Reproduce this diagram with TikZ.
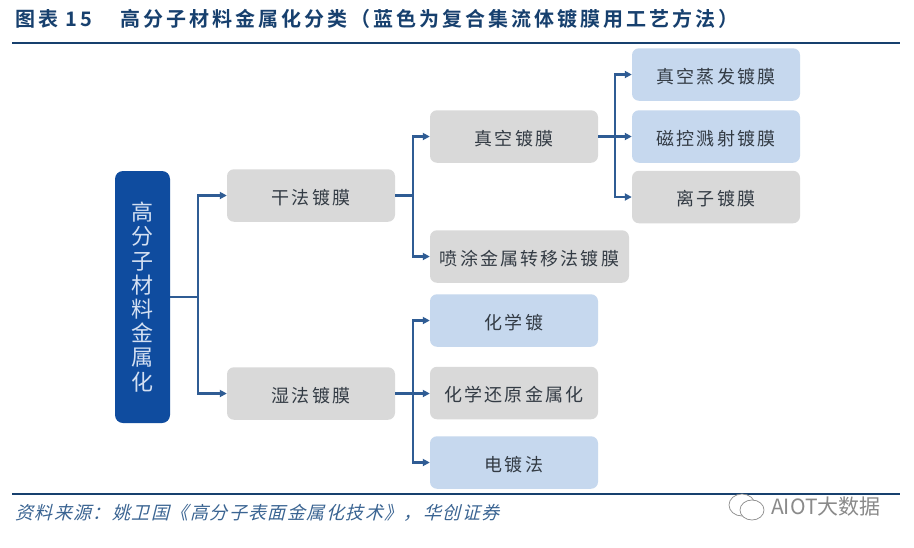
\documentclass[tikz,border=0pt]{standalone}
\usepackage{fontspec}
\usetikzlibrary{arrows.meta}
\setmainfont{Liberation Sans}
\newfontfamily\cjkbox[LetterSpace=12]{Noto Sans CJK SC}
\newfontfamily\cjkroot{Noto Sans CJK SC}
\newfontfamily\cjktitle[LetterSpace=15]{Noto Sans CJK SC Bold}
\newfontfamily\cjkfoot[FakeSlant=0.25,LetterSpace=8]{Noto Sans CJK SC}
\newfontfamily\cjkmark{Noto Sans CJK SC}
\definecolor{ruleblue}{HTML}{17406E}
\definecolor{linkblue}{HTML}{2F5C94}
\definecolor{boxgray}{HTML}{D9D9D9}
\definecolor{boxblue}{HTML}{C6D8EE}
\definecolor{rootblue}{HTML}{0F4C9F}
\definecolor{roottext}{HTML}{D4E0F2}
\definecolor{boxtext}{HTML}{333B44}
\definecolor{foottext}{HTML}{3A6492}
\definecolor{marktext}{HTML}{8A8A8A}
\tikzset{
  x=1pt,y=-1pt,
  basebox/.style={rounded corners=7pt,inner sep=0pt,text=boxtext,font=\cjkbox\fontsize{18}{20}\selectfont,minimum height=52.5pt,text height=18pt,text depth=0.3pt},
  graybox/.style={basebox,fill=boxgray,minimum width=168pt},
  bluebox/.style={basebox,fill=boxblue,minimum width=168pt},
  widebox/.style={basebox,fill=boxgray,minimum width=199pt},
  rootbox/.style={rounded corners=8pt,fill=rootblue,text=roottext,inner sep=0pt,minimum width=55pt,minimum height=252pt,align=center,font=\cjkroot\fontsize{22}{24.2}\selectfont},
  conn/.style={draw=linkblue,line width=2.2pt,-{Triangle[length=7pt,width=7pt]}},
  stem/.style={draw=linkblue,line width=2.2pt},
  rulebar/.style={draw=ruleblue,line width=2pt},
  titletext/.style={anchor=west,inner sep=0pt,text=ruleblue,font=\cjktitle\fontsize{20}{22}\selectfont},
  foot/.style={anchor=west,inner sep=0pt,text=foottext,font=\cjkfoot\fontsize{18}{20}\selectfont},
  marklabel/.style={anchor=west,inner sep=0pt,text=marktext,font=\cjkmark\fontsize{21}{23}\selectfont},
  markicon/.style={draw=marktext,fill=white,line width=0.7pt},
}
\begin{document}
\begin{tikzpicture}
\useasboundingbox (0,0) rectangle (914,547);
\fill[white] (0,0) rectangle (914,547);

\coordinate (ruleTopL) at (12,43);
\coordinate (ruleTopR) at (900,43);
\coordinate (ruleBotL) at (12,494);
\coordinate (ruleBotR) at (900,494);
\draw[rulebar] (ruleTopL) -- (ruleTopR);
\draw[rulebar] (ruleBotL) -- (ruleBotR);

\node[titletext] (fig) at (15,19) {图表 15};
\node[titletext] (title) at (120,19) {高分子材料金属化分类（蓝色为复合集流体镀膜用工艺方法）};
\node[foot] (source) at (15,513) {资料来源：姚卫国《高分子表面金属化技术》，华创证券};

\node[rootbox] (root) at (142.5,297) {高\\分\\子\\材\\料\\金\\属\\化};
\node[graybox] (gan) at (311,195.5) {干法镀膜};
\node[graybox] (shi) at (311,393.5) {湿法镀膜};
\node[graybox] (vac) at (514,136.5) {真空镀膜};
\node[widebox] (spray) at (529.5,256.5) {喷涂金属转移法镀膜};
\node[bluebox] (chem) at (514,320.5) {化学镀};
\node[graybox] (redu) at (514,393) {化学还原金属化};
\node[bluebox] (elec) at (514,462.5) {电镀法};
\node[bluebox] (evap) at (716,74.5) {真空蒸发镀膜};
\node[bluebox] (sput) at (716,136.5) {磁控溅射镀膜};
\node[graybox] (ion) at (716,197) {离子镀膜};

\coordinate (busA) at (198,297);
\coordinate (busB) at (413,195.5);
\coordinate (busC) at (615,136.5);
\coordinate (busD) at (413,393.5);

\draw[stem] (root.east |- busA) -- (busA);
\draw[conn] (busA) |- (gan.west);
\draw[conn] (busA) |- (shi.west);

\draw[stem] (gan.east) -- (busB);
\draw[conn] (busB) |- (vac.west);
\draw[conn] (busB) |- (spray.west);

\draw[stem] (vac.east) -- (busC);
\draw[conn] (busC) |- (evap.west);
\draw[conn] (busC) -- (sput.west);
\draw[conn] (busC) |- (ion.west);

\draw[stem] (shi.east) -- (busD);
\draw[conn] (busD) |- (chem.west);
\draw[conn] (busD) -- (redu.west |- busD);
\draw[conn] (busD) |- (elec.west);

% watermark
\draw[markicon] (742,505) ellipse [x radius=13pt,y radius=11pt];
\draw[markicon] (752,510) ellipse [x radius=12pt,y radius=10pt];
\node[marklabel] (mark) at (771,507) {AIOT大数据};
\end{tikzpicture}
\end{document}
